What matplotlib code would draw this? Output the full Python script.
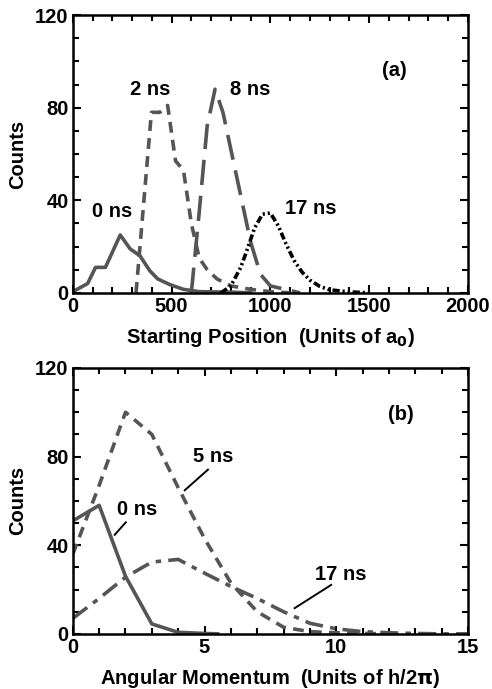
import matplotlib.pyplot as plt
from matplotlib.ticker import MultipleLocator

plt.rcParams['font.family'] = ['Liberation Sans', 'DejaVu Sans']
plt.rcParams['font.weight'] = 'bold'
plt.rcParams['axes.labelweight'] = 'bold'
plt.rcParams['mathtext.default'] = 'bf'

GRAY = '#555555'
FS = 14.5

# panel (a): starting position distributions
pos_0ns = [0, 75, 115, 165, 240, 290, 340, 390, 430, 490, 560, 640, 800, 900]
cnt_0ns = [0.5, 4, 11, 11, 25, 19, 16, 9.5, 6, 3.6, 1.5, 0.5, 0.3, 0]

pos_2ns = [320, 398, 440, 480, 520, 560, 600, 640, 680, 730, 800, 900, 1000, 1100]
cnt_2ns = [0, 78, 78, 81, 57, 53, 30, 15, 10, 6, 3, 1.5, 0.5, 0]

pos_8ns = [600, 640, 680, 720, 760, 800, 850, 900, 950, 1000, 1050, 1100, 1150]
cnt_8ns = [0, 35, 72, 88, 78, 62, 42, 22, 8, 3, 2, 1, 0]

pos_17ns = [750, 800, 850, 880, 920, 960, 1000, 1040, 1080, 1120, 1160, 1200, 1250, 1300, 1400, 1500]
cnt_17ns = [0, 3, 11, 18, 28, 34, 34.5, 29, 21, 14, 9, 5.5, 2.8, 1.3, 0.4, 0]

# panel (b): angular momentum distributions
l_0ns = [0, 1, 2, 3, 4, 5, 5.5]
n_0ns = [51, 58, 26, 4.5, 0.7, 0.2, 0]

l_5ns = [0, 1, 2, 3, 4, 5, 6, 7, 8, 9, 10, 11, 12]
n_5ns = [36, 67, 100, 90, 66, 43, 23, 10, 3, 1, 0.5, 0.2, 0]

l_17ns = [0, 1, 2, 3, 4, 5, 6, 7, 8, 9, 10, 11, 12, 13, 14, 15]
n_17ns = [7, 16, 25.6, 32.4, 33.6, 27.4, 21.4, 16, 10, 4.8, 2.3, 1, 0.5, 0.2, 0, 0]

fig = plt.figure(figsize=(4.92, 6.89), dpi=100)
ax1 = fig.add_axes([0.148, 0.575, 0.803, 0.403])
ax2 = fig.add_axes([0.148, 0.080, 0.803, 0.386])

lw = 2.6
ax1.plot(pos_0ns, cnt_0ns, color=GRAY, lw=lw)
ax1.plot(pos_2ns, cnt_2ns, color=GRAY, lw=lw, linestyle=(0, (3, 2)))
ax1.plot(pos_8ns, cnt_8ns, color=GRAY, lw=lw, linestyle=(0, (7, 3)))
ax1.plot(pos_17ns, cnt_17ns, color='black', lw=lw, linestyle=(0, (2, 0.8, 0.6, 0.8, 0.6, 0.8)))

ax1.set_xlim(0, 2000)
ax1.set_ylim(0, 120)
ax1.xaxis.set_major_locator(MultipleLocator(500))
ax1.xaxis.set_minor_locator(MultipleLocator(100))
ax1.set_xlabel('Starting Position  (Units of a$_0$)', fontsize=FS, labelpad=7)

ax1.text(1626, 96, '(a)', fontsize=FS, ha='center', va='center')
ax1.text(390, 88, '2 ns', fontsize=FS, ha='center', va='center')
ax1.text(899, 88, '8 ns', fontsize=FS, ha='center', va='center')
ax1.text(201, 35, '0 ns', fontsize=FS, ha='center', va='center')
ax1.text(1204, 36.5, '17 ns', fontsize=FS, ha='center', va='center')

ax2.plot(l_0ns, n_0ns, color=GRAY, lw=lw)
ax2.plot(l_5ns, n_5ns, color=GRAY, lw=lw, linestyle=(0, (3, 2)))
ax2.plot(l_17ns, n_17ns, color=GRAY, lw=lw, linestyle=(0, (5, 2, 1.5, 2)))

ax2.set_xlim(0, 15)
ax2.set_ylim(0, 120)
ax2.xaxis.set_major_locator(MultipleLocator(5))
ax2.xaxis.set_minor_locator(MultipleLocator(1))
ax2.set_xlabel('Angular Momentum  (Units of h/2$\\pi$)', fontsize=FS, labelpad=7)

ax2.text(12.47, 99, '(b)', fontsize=FS, ha='center', va='center')
ax2.text(5.32, 80, '5 ns', fontsize=FS, ha='center', va='center')
ax2.plot([5.13, 4.25], [74.1, 64.8], color='black', lw=1.4)
ax2.text(2.43, 56, '0 ns', fontsize=FS, ha='center', va='center')
ax2.plot([2.01, 1.59], [50.3, 44.7], color='black', lw=1.4)
ax2.text(10.19, 27, '17 ns', fontsize=FS, ha='center', va='center')
ax2.plot([9.81, 8.42], [22.1, 11.6], color='black', lw=1.4)

for ax in (ax1, ax2):
    ax.yaxis.set_major_locator(MultipleLocator(40))
    ax.yaxis.set_minor_locator(MultipleLocator(10))
    ax.set_ylabel('Counts', fontsize=FS, labelpad=6)
    ax.tick_params(which='both', direction='in', top=True, right=True, width=1.5, labelsize=FS)
    ax.tick_params(which='major', length=6, pad=3)
    ax.tick_params(which='minor', length=4)
    for lab in ax.get_xticklabels() + ax.get_yticklabels():
        lab.set_fontweight('bold')
    for s in ax.spines.values():
        s.set_linewidth(1.8)

fig.savefig('out.png', dpi=100)
